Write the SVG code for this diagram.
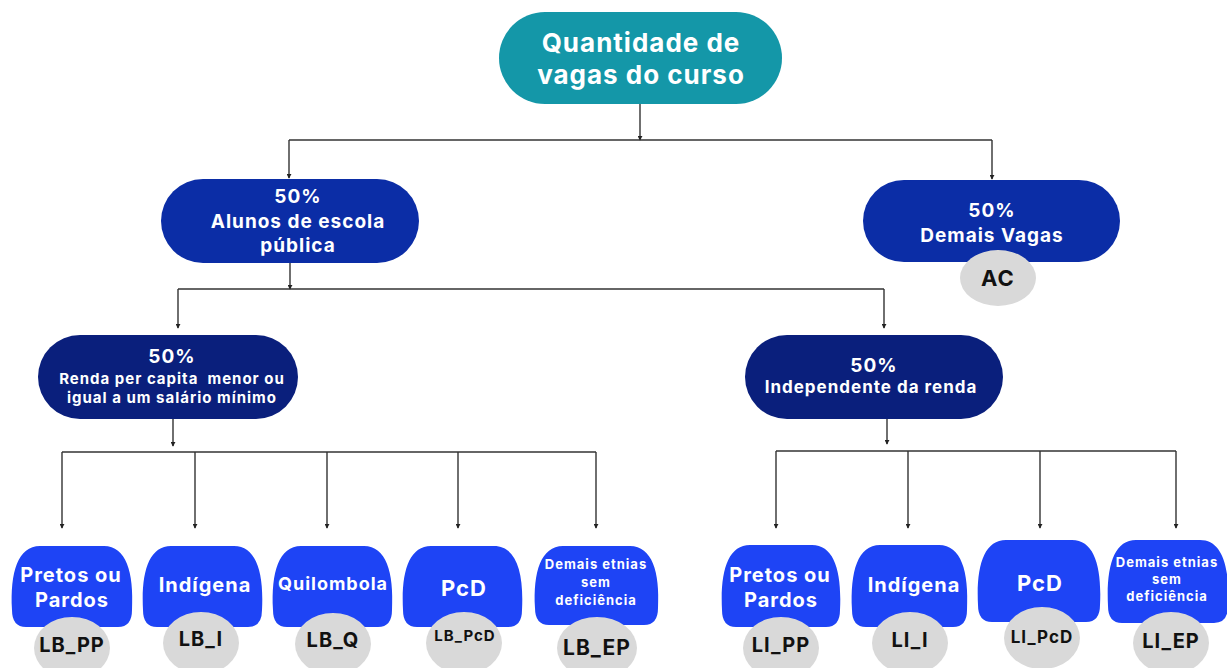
<svg xmlns="http://www.w3.org/2000/svg" width="1227" height="668" viewBox="0 0 1227 668">
<defs>
<marker id="ah" viewBox="0 0 6 6" refX="5" refY="3" markerWidth="5" markerHeight="5" orient="auto" markerUnits="userSpaceOnUse">
<path d="M0,0 L6,3 L0,6 Z" fill="#222"/>
</marker>
<style>
.t{font-family:Inter,"Liberation Sans",sans-serif;font-weight:700;text-anchor:middle;letter-spacing:1px;white-space:pre}
.w{fill:#fff}
.k{fill:#111}
.ln{fill:none;stroke:#333;stroke-width:1.4}
.ar{fill:none;stroke:#333;stroke-width:1.4;marker-end:url(#ah)}
.bb{fill:#1E44F5}
.gr{fill:#D9D9D9}
</style>
</defs>
<rect width="1227" height="668" fill="#fff"/>
<g id="connectors">
<path class="ar" d="M640,104 V140"/>
<path class="ln" d="M289,140 H992"/>
<path class="ar" d="M289,140 V178"/>
<path class="ar" d="M992,140 V179"/>
<path class="ar" d="M290,263 V289"/>
<path class="ln" d="M178,289 H884"/>
<path class="ar" d="M178,289 V328"/>
<path class="ar" d="M884,289 V328"/>
<path class="ar" d="M173,419 V446"/>
<path class="ln" d="M62,452 H596"/>
<path class="ar" d="M62,452 V528"/>
<path class="ar" d="M195,452 V528"/>
<path class="ar" d="M327,452 V528"/>
<path class="ar" d="M458,452 V528"/>
<path class="ar" d="M596,452 V528"/>
<path class="ar" d="M887,419 V444"/>
<path class="ln" d="M776,451 H1176"/>
<path class="ar" d="M776,451 V528"/>
<path class="ar" d="M908,451 V528"/>
<path class="ar" d="M1040,451 V528"/>
<path class="ar" d="M1176,451 V528"/>
</g>
<g id="n-top">
<rect x="499" y="12" width="283" height="92" rx="46" fill="#1497A8"/>
<text class="t w" x="641" y="52" font-size="26">Quantidade de</text>
<text class="t w" x="641" y="84" font-size="26">vagas do curso</text>
</g>
<g id="n-publica">
<rect x="161" y="179" width="258" height="84" rx="42" fill="#0B2DA6"/>
<text class="t w" x="298" y="203" font-size="19">50%</text>
<text class="t w" x="298" y="228" font-size="19">Alunos de escola</text>
<text class="t w" x="298" y="252" font-size="19">pública</text>
</g>
<g id="n-demais">
<rect x="863" y="180" width="257" height="82" rx="41" fill="#0B2DA6"/>
<text class="t w" x="992" y="217" font-size="19">50%</text>
<text class="t w" x="992" y="242" font-size="19">Demais Vagas</text>
<ellipse class="gr" cx="998" cy="278" rx="38" ry="28"/>
<text class="t k" x="998" y="286" font-size="22">AC</text>
</g>
<g id="n-renda">
<rect x="38" y="335" width="260" height="84" rx="42" fill="#0A1F7C"/>
<text class="t w" x="172" y="363" font-size="19">50%</text>
<text class="t w" x="172" y="384" font-size="15" letter-spacing="0.6">Renda per capita  menor ou</text>
<text class="t w" x="172" y="403" font-size="15" letter-spacing="0.6">igual a um salário mínimo</text>
</g>
<g id="n-indep">
<rect x="745" y="335" width="258" height="84" rx="42" fill="#0A1F7C"/>
<text class="t w" x="874" y="372" font-size="19">50%</text>
<text class="t w" x="871" y="393" font-size="17" letter-spacing="0.8">Independente da renda</text>
</g>
<g id="n-lb-pp">
<path class="bb" d="M40,546 H104 C126,546 134,572 132,610 Q132,627 118,627 H26 Q12,627 12,610 C10,572 18,546 40,546 Z"/>
<text class="t w" x="71" y="582" font-size="20">Pretos ou</text>
<text class="t w" x="72" y="607" font-size="20">Pardos</text>
<ellipse class="gr" cx="72" cy="648" rx="38" ry="31"/>
<text class="t k" x="72" y="652" font-size="20">LB_PP</text>
</g>
<g id="n-lb-i">
<path class="bb" d="M171,546 H234 C256,546 264,572 262,610 Q262,627 248,627 H157 Q143,627 143,610 C141,572 149,546 171,546 Z"/>
<text class="t w" x="205" y="592" font-size="20">Indígena</text>
<ellipse class="gr" cx="201" cy="643" rx="38" ry="31"/>
<text class="t k" x="201" y="646" font-size="20">LB_I</text>
</g>
<g id="n-lb-q">
<path class="bb" d="M301,546 H364 C386,546 394,572 392,610 Q392,627 378,627 H287 Q273,627 273,610 C271,572 279,546 301,546 Z"/>
<text class="t w" x="333" y="590" font-size="18">Quilombola</text>
<ellipse class="gr" cx="333" cy="644" rx="38" ry="31"/>
<text class="t k" x="333" y="647" font-size="20">LB_Q</text>
</g>
<g id="n-lb-pcd">
<path class="bb" d="M431,546 H494 C516,546 524,572 522,610 Q522,627 508,627 H417 Q403,627 403,610 C401,572 409,546 431,546 Z"/>
<text class="t w" x="464" y="596" font-size="22">PcD</text>
<ellipse class="gr" cx="464" cy="643" rx="38" ry="31"/>
<text class="t k" x="465" y="641" font-size="15">LB_PcD</text>
</g>
<g id="n-lb-ep">
<path class="bb" d="M563,546 H630 C652,546 660,572 658,608 Q658,625 644,625 H549 Q535,625 535,608 C533,572 541,546 563,546 Z"/>
<text class="t w" x="596" y="569" font-size="13" letter-spacing="0.9">Demais etnias</text>
<text class="t w" x="596" y="587" font-size="13" letter-spacing="0.9">sem</text>
<text class="t w" x="596" y="605" font-size="13" letter-spacing="0.9">deficiência</text>
<ellipse class="gr" cx="597" cy="648" rx="40" ry="31"/>
<text class="t k" x="597" y="655" font-size="21">LB_EP</text>
</g>
<g id="n-li-pp">
<path class="bb" d="M750,545 H812 C834,545 842,571 840,610 Q840,627 826,627 H736 Q722,627 722,610 C720,571 728,545 750,545 Z"/>
<text class="t w" x="780" y="582" font-size="20">Pretos ou</text>
<text class="t w" x="781" y="607" font-size="20">Pardos</text>
<ellipse class="gr" cx="781" cy="648" rx="38" ry="31"/>
<text class="t k" x="781" y="652" font-size="20">LI_PP</text>
</g>
<g id="n-li-i">
<path class="bb" d="M880,545 H939 C961,545 969,571 967,610 Q967,627 953,627 H866 Q852,627 852,610 C850,571 858,545 880,545 Z"/>
<text class="t w" x="914" y="592" font-size="20">Indígena</text>
<ellipse class="gr" cx="910" cy="643" rx="38" ry="31"/>
<text class="t k" x="910" y="647" font-size="20">LI_I</text>
</g>
<g id="n-li-pcd">
<path class="bb" d="M1006,540 H1072 C1094,540 1102,566 1100,605 Q1100,622 1086,622 H992 Q978,622 978,605 C976,566 984,540 1006,540 Z"/>
<text class="t w" x="1040" y="591" font-size="22">PcD</text>
<ellipse class="gr" cx="1042" cy="638" rx="38" ry="31"/>
<text class="t k" x="1042" y="643" font-size="17">LI_PcD</text>
</g>
<g id="n-li-ep">
<path class="bb" d="M1136,540 H1200 C1222,540 1230,566 1228,606 Q1228,623 1214,623 H1122 Q1108,623 1108,606 C1106,566 1114,540 1136,540 Z"/>
<text class="t w" x="1167" y="567" font-size="13" letter-spacing="0.9">Demais etnias</text>
<text class="t w" x="1167" y="584" font-size="13" letter-spacing="0.9">sem</text>
<text class="t w" x="1167" y="601" font-size="13" letter-spacing="0.9">deficiência</text>
<ellipse class="gr" cx="1171" cy="643" rx="38" ry="31"/>
<text class="t k" x="1171" y="648" font-size="20">LI_EP</text>
</g>
</svg>
